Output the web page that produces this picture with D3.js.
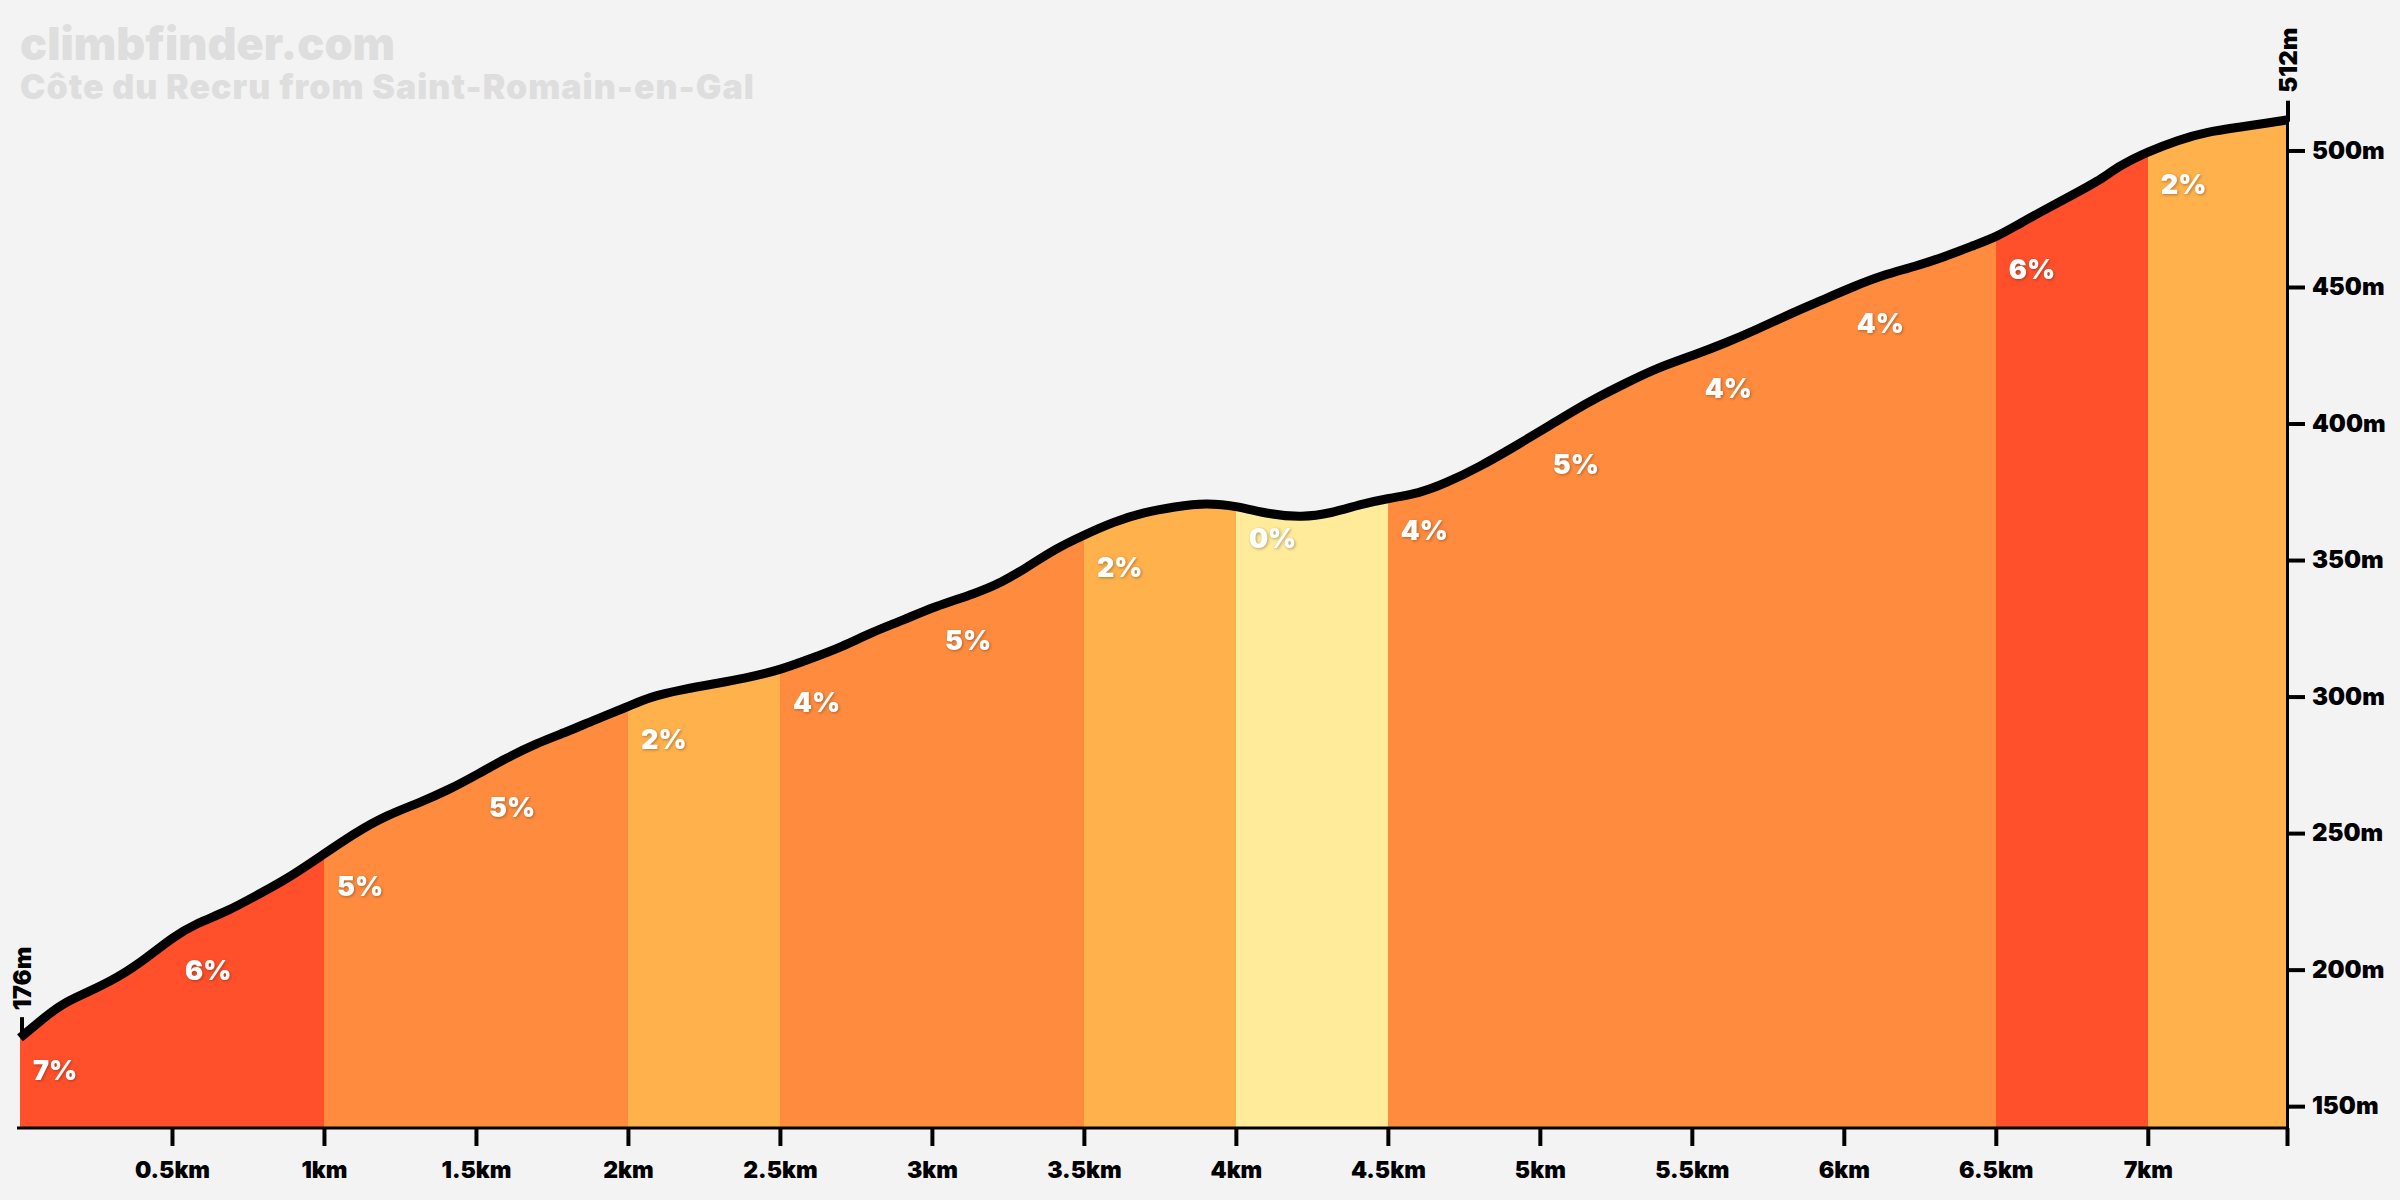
<!DOCTYPE html>
<html>
<head>
<meta charset="utf-8">
<script src="https://cdn.jsdelivr.net/npm/d3@7"></script>
<style>
  body { margin: 0; background: #f3f3f3; }
  text { font-family: Inter, Lato, sans-serif; font-weight: 900; }
  .tick text { fill: #000; }
  .grade { fill: #fff; font-size: 27px; filter: drop-shadow(1px 1px 1.5px rgba(0,0,0,.3)); }
</style>
</head>
<body>
<script>
// profile
var distKm = [0, 0.063, 0.138, 0.227, 0.327, 0.415, 0.504, 0.579, 0.68, 0.78, 0.881, 0.994, 1.108, 1.208, 1.309, 1.41, 1.511, 1.599, 1.699, 1.8, 1.888, 2,
  2.075, 2.175, 2.289, 2.377, 2.5, 2.603, 2.704, 2.805, 2.906, 3.006, 3.145, 3.233, 3.308, 3.409, 3.501, 3.598, 3.698, 3.799, 3.9, 4.004,
  4.111, 4.218, 4.312, 4.413, 4.501, 4.602, 4.69, 4.803, 4.916, 5.017, 5.105, 5.193, 5.281, 5.382, 5.508, 5.609, 5.709, 5.828, 5.929, 6.03,
  6.13, 6.231, 6.332, 6.432, 6.503, 6.571, 6.659, 6.747, 6.835, 6.911, 7.001, 7.1, 7.188, 7.313, 7.389, 7.458];
var elevM = [175, 180.9, 187.6, 191.9, 197.4, 204.1, 212, 216.9, 221.2, 227.3, 233.4, 241.9, 250.5, 256.6, 260.9, 265.8, 271.9, 277.4, 282.9, 287.1, 291.4, 296.3,
  300, 302.5, 304.8, 306.5, 309.7, 314, 318.2, 323.7, 328, 332.9, 337.8, 342, 347, 354.3, 359.2, 364, 367.5, 369.5, 371, 369.8,
  366.7, 365.6, 367.1, 370.5, 372.6, 374.4, 378.1, 384.2, 391.5, 398.2, 404.3, 409.8, 414.7, 420.2, 425.1, 429.4, 434.2, 440.4, 445.2, 450.1,
  454.4, 457.4, 461.1, 465.4, 468.4, 472.7, 478.2, 483.4, 488.6, 494.7, 499.6, 503.8, 506.7, 508.7, 510, 511.2];

var sectionStart = [0, 0.5, 1, 1.5, 2, 2.5, 3, 3.5, 4, 4.5, 5, 5.5, 6, 6.5, 7];
var sectionGrade = [7, 6, 5, 5, 2, 4, 5, 2, 0, 4, 5, 4, 4, 6, 2];

var xTicks = [0.5, 1, 1.5, 2, 2.5, 3, 3.5, 4, 4.5, 5, 5.5, 6, 6.5, 7, 7.458];
var xTickLabels = ["0.5km", "1km", "1.5km", "2km", "2.5km", "3km", "3.5km", "4km", "4.5km", "5km", "5.5km", "6km", "6.5km", "7km", ""];
var yTicks = [150, 200, 250, 300, 350, 400, 450, 500];
var yTickLabels = ["150m", "200m", "250m", "300m", "350m", "400m", "450m", "500m"];
var startLabel = "176m";
var endLabel = "512m";

var width = 2400;
var height = 1200;
var endKm = distKm[distKm.length - 1];

var x = d3.scaleLinear().domain([0, endKm]).range([20, 2287]);
var y = d3.scaleLinear().domain([142, 512]).range([1128, 117.7]);

function gradeColor(g) {
  if (g >= 6) return "#ff502b";
  if (g >= 3) return "#ff8c3e";
  if (g >= 1) return "#ffb14c";
  return "#ffeb9a";
}

// linear lookup, only used to place the % labels
function elevAt(km) {
  var i = d3.bisectLeft(distKm, km);
  if (i == 0) return elevM[0];
  var t = (km - distKm[i - 1]) / (distKm[i] - distKm[i - 1]);
  return elevM[i - 1] + t * (elevM[i] - elevM[i - 1]);
}

var svg = d3.select("body").append("svg")
  .attr("width", width)
  .attr("height", height)
  .style("display", "block");

svg.append("rect").attr("width", width).attr("height", height).attr("fill", "#f3f3f3");

var area = d3.area()
  .x(function (d, i) { return x(distKm[i]); })
  .y0(y(142))
  .y1(function (d) { return y(d); })
  .curve(d3.curveBasis);

var line = d3.line()
  .x(function (d, i) { return x(distKm[i]); })
  .y(function (d) { return y(d); })
  .curve(d3.curveBasis);

svg.append("clipPath").attr("id", "profile").append("path").attr("d", area(elevM));

// coloured sections
svg.append("g").attr("clip-path", "url(#profile)")
  .selectAll("rect").data(sectionStart).enter().append("rect")
  .attr("x", function (d) { return x(d); })
  .attr("width", function (d, i) { return x(i < sectionStart.length - 1 ? sectionStart[i + 1] : endKm) - x(d); })
  .attr("y", y(512) - 10)
  .attr("height", y(142) - y(512) + 10)
  .attr("shape-rendering", "crispEdges")
  .attr("fill", function (d, i) { return gradeColor(sectionGrade[i]); });

// axes
var xAxis = d3.axisBottom(x).tickValues(xTicks).tickSize(18).tickSizeOuter(0).tickPadding(16)
  .tickFormat(function (d, i) { return xTickLabels[i]; });
var gx = svg.append("g").attr("transform", "translate(0," + y(142) + ")").call(xAxis);
gx.select(".domain").attr("stroke-width", 3).attr("d", "M" + (x(0) - 3) + ",0H" + x(endKm));
gx.selectAll(".tick line").attr("stroke-width", 4);
gx.selectAll(".tick text").attr("font-size", 23);

var yAxis = d3.axisRight(y).tickValues(yTicks).tickSize(18).tickSizeOuter(0).tickPadding(7)
  .tickFormat(function (d, i) { return yTickLabels[i]; });
var gy = svg.append("g").attr("transform", "translate(" + x(endKm) + ",0)").call(yAxis);
gy.select(".domain").attr("stroke-width", 3);
gy.selectAll(".tick line").attr("stroke-width", 4);
gy.selectAll(".tick text").attr("font-size", 24);

// start and finish markers
svg.append("path").attr("d", "M" + (x(0) + 2) + "," + (y(176) - 18) + "V" + y(176)).attr("stroke", "#000").attr("stroke-width", 4);
svg.append("path").attr("d", "M" + (x(endKm) + 1) + "," + (y(512) - 17) + "V" + (y(512) + 4)).attr("stroke", "#000").attr("stroke-width", 4);

svg.append("text").attr("transform", "translate(31," + (y(176) - 25) + ") rotate(-90)")
  .attr("font-size", 24).text(startLabel);
svg.append("text").attr("transform", "translate(2297," + (y(512) - 25) + ") rotate(-90)")
  .attr("font-size", 24).text(endLabel);

// profile line
svg.append("path").attr("d", line(elevM))
  .attr("fill", "none")
  .attr("stroke", "#000")
  .attr("stroke-width", 9)
  .attr("stroke-linejoin", "round");

// gradients
svg.selectAll(".grade").data(sectionStart).enter().append("text")
  .attr("class", "grade")
  .attr("x", function (d) { return x(d) + 13; })
  .attr("y", function (d) { return y(elevAt(d)) + 42; })
  .text(function (d, i) { return sectionGrade[i] + "%"; });

// titles
svg.append("text").attr("x", 20).attr("y", 60).attr("fill", "#dedede").attr("font-size", 45).text("climbfinder.com");
svg.append("text").attr("x", 20).attr("y", 99).attr("fill", "#dedede").attr("font-size", 34)
  .attr("letter-spacing", 1).text("Côte du Recru from Saint-Romain-en-Gal");
</script>
</body>
</html>
